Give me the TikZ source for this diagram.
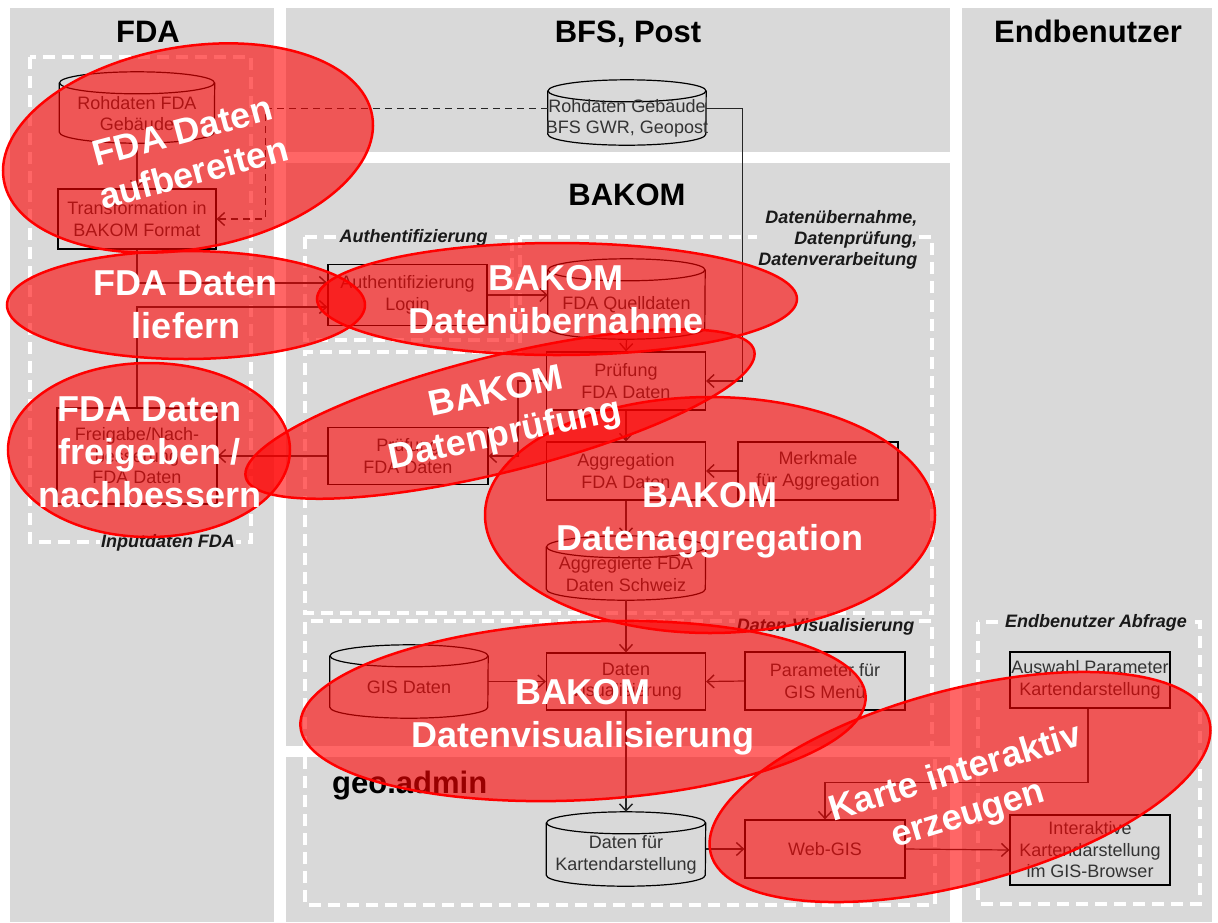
\documentclass[tikz,border=0pt]{standalone}
\usepackage{fontspec}
\setmainfont{Liberation Sans}
\usetikzlibrary{arrows.meta,calc}
\definecolor{panel}{HTML}{D9D9D9}
\definecolor{ntxt}{HTML}{333333}
\tikzset{
 wdash/.style={draw=white, line width=3.5pt, dash pattern=on 12pt off 7pt},
 ntext/.style={align=center, text=ntxt, font=\fontsize{18}{21.5}\selectfont, inner sep=0pt},
 rbox/.style={ntext, draw=black, line width=1.2pt},
 nodeline/.style={draw=black, line width=1.2pt},
 conn/.style={draw=black!85, line width=1.2pt, -{Straight Barb[length=7pt,width=13pt,line width=1.4pt]}},
 dashconn/.style={conn, dash pattern=on 7pt off 5pt},
 title/.style={font=\fontsize{31}{36}\selectfont\bfseries, inner sep=0pt},
 grp/.style={font=\fontsize{18}{21}\selectfont\bfseries\itshape, fill=panel, inner sep=1.5pt, text=black!90},
 redell/.style={draw=red, line width=2.5pt, fill=red, fill opacity=0.6},
 etext/.style={text=white, font=\fontsize{36}{43}\selectfont\bfseries, align=center, inner sep=0pt},
}
\newcommand\cyl[6]{%
 \node[ntext, minimum width=#4pt, minimum height=#5pt] (#1) at (#2,#3) {};
 \draw[nodeline] ($(#1.north west)+(0,11)$) -- ($(#1.south west)+(0,-11)$)
   arc[start angle=180, end angle=360, x radius=0.5*#4pt, y radius=11pt]
   -- ($(#1.north east)+(0,11)$);
 \draw[nodeline] ($(#1.north)+(0,11)$) ellipse[x radius=0.5*#4pt, y radius=11pt];
 \node[ntext] (#1-t) at ($(#1.center)+(0,6)$) {#6};
}
\begin{document}
\begin{tikzpicture}[x=1pt,y=-1pt]
\useasboundingbox (0,0) rectangle (1218,922);
\fill[white] (0,0) rectangle (1218,922);
% panels
\fill[panel] (10,8) rectangle (274,922);
\fill[panel] (286,8) rectangle (950,152);
\fill[panel] (286,163) rectangle (950,746);
\fill[panel] (286,757) rectangle (950,922);
\fill[panel] (962,8) rectangle (1212,922);
% titles
\node[title, anchor=base] (tFDA) at (148,42) {FDA};
\node[title, anchor=base] (tBFS) at (628,42) {BFS, Post};
\node[title, anchor=base] (tEnd) at (1088,42) {Endbenutzer};
\node[title, anchor=base] (tBAKOM) at (627,205) {BAKOM};
\node[title, anchor=base west] (tGeo) at (332,793) {geo.admin};
% dashed groups
\draw[wdash] (30,57) rectangle (251,542);
\draw[wdash] (305,237) rectangle (512,340);
\draw[wdash] (520,237) -- (932,237) -- (932,613) -- (305,613) -- (305,352) -- (520,352) -- cycle;
\draw[wdash] (305,748) -- (305,621) -- (932,621) -- (932,748);
\draw[wdash] (305,757) -- (305,905) -- (935,905) -- (935,757);
\draw[wdash] (978,622) rectangle (1200,904);
% group labels
\node[grp, anchor=base] (lInput) at (168,547) {Inputdaten FDA};
\node[grp, anchor=base west] (lAuth) at (338,242) {Authentifizierung};
\node[grp, anchor=north east, align=right] (lDaten) at (919,209) {Datenübernahme,\\Datenprüfung,\\Datenverarbeitung};
\node[grp, anchor=base east] (lVis) at (916,631) {Daten Visualisierung};
\node[grp, anchor=base] (lEnd) at (1096,627) {Endbenutzer Abfrage};
% nodes
\cyl{rohFDA}{137}{107.5}{155}{71}{Rohdaten FDA\\Gebäude}
\node[rbox, minimum width=158pt, minimum height=60pt] (trans) at (137,219) {Transformation in\\BAKOM Format};
\cyl{rohBFS}{627}{112.5}{158}{65}{Rohdaten Gebäude\\BFS GWR, Geopost}
\node[rbox, minimum width=159pt, minimum height=61pt] (auth) at (407.5,295) {Authentifizierung\\Login};
\cyl{quell}{626.5}{299}{157}{80}{FDA Quelldaten}
\node[rbox, minimum width=159pt, minimum height=58pt] (pruefA) at (626,381) {Prüfung\\FDA Daten};
\node[rbox, minimum width=160pt, minimum height=57pt] (pruefB) at (408,456) {Prüfung\\FDA Daten};
\node[rbox, minimum width=160pt, minimum height=96pt] (freig) at (137,456) {Freigabe/Nach-\\besserung\\FDA Daten};
\node[rbox, minimum width=159pt, minimum height=58pt] (aggr) at (626,471) {Aggregation\\FDA Daten};
\node[rbox, minimum width=160pt, minimum height=58pt] (merk) at (818,471) {Merkmale\\für Aggregation};
\cyl{aggS}{626}{568}{159}{64}{Aggregierte FDA\\Daten Schweiz}
\node[rbox, minimum width=159pt, minimum height=57pt] (vis) at (626,681.5) {Daten\\Visualisierung};
\cyl{gis}{409}{681.5}{158}{73}{GIS Daten}
\node[rbox, minimum width=160pt, minimum height=58pt] (param) at (825,681) {Parameter für\\GIS Menü};
\cyl{karte}{626}{849}{159}{74}{Daten für\\Kartendarstellung}
\node[rbox, minimum width=160pt, minimum height=58pt] (web) at (825,849) {Web-GIS};
\node[rbox, minimum width=160pt, minimum height=56pt] (ausw) at (1090,680) {Auswahl Parameter\\Kartendarstellung};
\node[rbox, minimum width=160pt, minimum height=70pt] (inter) at (1090,850) {Interaktive\\Kartendarstellung\\im GIS-Browser};
% connectors
\draw[conn] (rohFDA.south) -- (trans.north);
\draw[dashconn] ($(rohBFS.west)+(0,-4)$) -| ($(trans.east)+(49,0)$) -- (trans.east);
\draw[conn] ($(rohBFS.east)+(0,-4)$) -| ($(pruefA.east)+(36,0)$) -- (pruefA.east);
\draw[conn] (trans.south) |- ($(auth.west)+(0,-12)$);
\draw[conn] (freig.north) |- ($(auth.west)+(0,12)$);
\draw[conn] (auth.east) -- (auth.east -| quell.west);
\draw[conn] (quell.south) -- (pruefA.north);
\draw[conn] (pruefA.south) -- (aggr.north);
\draw[conn] (pruefA.west) -- ++(-28,0) |- (pruefB.east);
\draw[conn] (pruefB.west) -- (freig.east);
\draw[conn] (merk.west) -- (aggr.east);
\draw[conn] (aggr.south) -- (aggS.north);
\draw[conn] (aggS.south) -- (vis.north);
\draw[conn] (gis.east) -- (vis.west);
\draw[conn] (param.west) -- (vis.east);
\draw[conn] (vis.south) -- (karte.north);
\draw[conn] (karte.east) -- (web.west);
\draw[conn] (web.east) -- (inter.west);
\draw[conn] ($(ausw.south)+(-2,0)$) -- ++(0,74) -| (web.north);
% red ellipses
\draw[redell, rotate around={10:(188,148)}] (188,148) ellipse[x radius=187pt, y radius=101pt];
\draw[redell] (186,305) ellipse[x radius=179pt, y radius=54pt];
\draw[redell] (149,450) ellipse[x radius=141pt, y radius=87pt];
\draw[redell] (557,299) ellipse[x radius=240pt, y radius=56pt];
\draw[redell, rotate around={14:(500,414)}] (500,414) ellipse[x radius=262pt, y radius=58pt];
\draw[redell] (710,515) ellipse[x radius=225pt, y radius=118pt];
\draw[redell, rotate around={3:(583,711)}] (583,711) ellipse[x radius=283pt, y radius=89pt];
\draw[redell, rotate around={15:(960,787)}] (960,787) ellipse[x radius=258pt, y radius=97pt];
% ellipse texts
\node[etext, rotate=15] (e1) at (188,152) {FDA Daten\\aufbereiten};
\node[etext] (e2) at (186,305) {FDA Daten\\liefern};
\node[etext] (e3) at (150,452) {FDA Daten\\freigeben /\\nachbessern};
\node[etext] (e4) at (556,300) {BAKOM\\Datenübernahme};
\node[etext, rotate=12] (e5) at (501,415) {BAKOM\\Datenprüfung};
\node[etext] (e6) at (710,520) {BAKOM\\Datenaggregation};
\node[etext] (e7) at (583,717) {BAKOM\\Datenvisualisierung};
\node[etext, rotate=17] (e8) at (962,795) {Karte interaktiv\\erzeugen};
\end{tikzpicture}
\end{document}
